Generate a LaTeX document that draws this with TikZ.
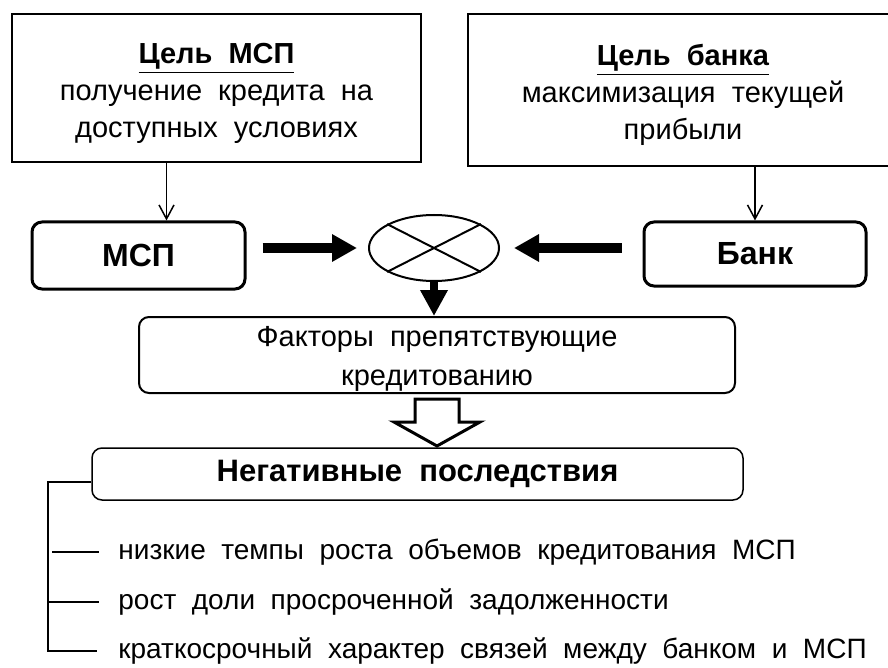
\documentclass[tikz,border=0pt]{standalone}
\usepackage{fontspec}
\setmainfont{Liberation Sans}[WordSpace=2]
\usetikzlibrary{arrows.meta,shapes.geometric,calc}
\tikzset{
    goalbox/.style={draw, line width=0.75pt, align=center, inner sep=0pt,
        font=\fontsize{14.5}{18.5}\selectfont},
    sidebox/.style={draw, line width=1.5pt, rounded corners=5pt, inner sep=0pt,
        font=\fontsize{16}{19}\selectfont\bfseries},
    factbox/.style={draw, line width=1pt, rounded corners=5pt, align=center, inner sep=0pt,
        font=\fontsize{14.5}{19.5}\selectfont},
    item/.style={anchor=west, inner sep=0pt, font=\fontsize{14}{17}\selectfont},
    thinarr/.style={-{Straight Barb[length=7pt,width=7.5pt]}, line width=0.75pt},
    fatarr/.style={-{Triangle[length=12.5pt,width=13pt]}, line width=5pt},
    bracket/.style={line width=1pt}
}
\begin{document}
\begin{tikzpicture}[x=0.5pt, y=-0.5pt]
    \useasboundingbox (0,0) rectangle (888,668);
    % goals
    \node[goalbox, minimum width=204.5pt, minimum height=74pt] (gm) at (216.5,88)
        {\rule{0pt}{16pt}\underline{\textbf{Цель МСП}}\\получение кредита на\\доступных условиях};
    \node[goalbox, minimum width=215pt, minimum height=76pt] (gb) at (683,90)
        {\rule{0pt}{16pt}\underline{\textbf{Цель банка}}\\максимизация текущей\\прибыли};
    % sides
    \node[sidebox, minimum width=106.5pt, minimum height=33.5pt] (msp) at (138.5,255.5) {МСП};
    \node[sidebox, minimum width=111pt, minimum height=32pt] (bank) at (755,254) {Банк};
    \node[draw, ellipse, line width=1pt, minimum width=65pt, minimum height=33pt, inner sep=0pt] (cross) at (434,248) {};
    \draw[line width=1pt] (cross.27) -- (cross.207) (cross.153) -- (cross.333);
    \draw[thinarr] ([xshift=-25pt]gm.south) -- ([xshift=-25pt]gm.south |- msp.north);
    \draw[thinarr] (gb.south -| bank.north) -- (bank.north);
    \draw[fatarr, shorten <=8pt, shorten >=5.5pt] (msp.east |- cross.west) -- (cross.west);
    \draw[fatarr, shorten <=10.5pt, shorten >=7pt] (bank.west |- cross.east) -- (cross.east);
    % factors
    \node[factbox, minimum width=298pt, minimum height=38pt] (fact) at (437,355)
        {\rule{0pt}{14pt}Факторы препятствующие\\кредитованию};
    \draw[-{Triangle[length=13pt,width=13pt]}, line width=4pt] (cross.south) -- (cross.south |- fact.north);
    \draw[line width=1.5pt, line join=miter] ($(fact.south)+(-22,5)$) -- ($(fact.south)+(22,5)$)
        -- ($(fact.south)+(22,28)$) -- ($(fact.south)+(43,28)$) -- ($(fact.south)+(0,52)$)
        -- ($(fact.south)+(-43,28)$) -- ($(fact.south)+(-22,28)$) -- cycle;
    % consequences
    \node[factbox, line width=0.75pt, minimum width=325.5pt, minimum height=26pt, font=\fontsize{15.5}{17}\selectfont\bfseries] (neg) at (417.5,474)
        {Негативные последствия};
    \node[item] (i1) at (118,552) {низкие темпы роста объемов кредитования МСП};
    \node[item] (i2) at (118,602) {рост доли просроченной задолженности};
    \node[item] (i3) at (118,651) {краткосрочный характер связей между банком и МСП};
    \coordinate (brk) at (48,482);
    \draw[bracket] ([yshift=-4pt]neg.west) -- (brk) -- (brk |- i3.west) -- ([xshift=-10.5pt]i3.west);
    \draw[bracket] ([xshift=-33pt]i1.west) -- ([xshift=-9.5pt]i1.west);
    \draw[bracket] (brk |- i2.west) -- ([xshift=-9.5pt]i2.west);
\end{tikzpicture}
\end{document}
